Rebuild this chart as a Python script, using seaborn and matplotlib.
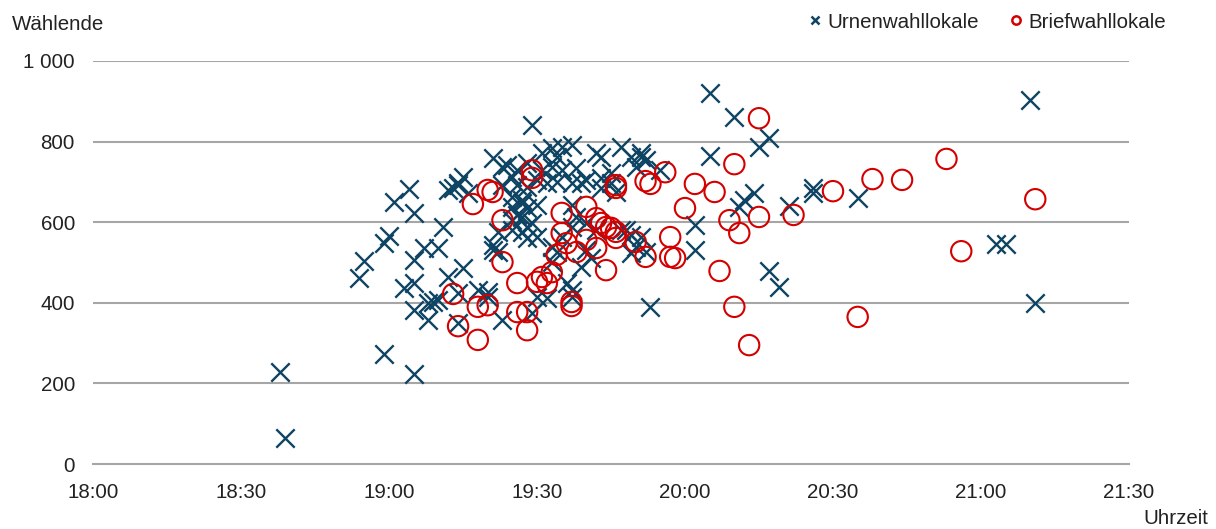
import matplotlib
matplotlib.use("Agg")
import matplotlib.pyplot as plt
from matplotlib.lines import Line2D
import seaborn as sns
import pandas as pd

# ---------------- data ----------------
urnen_time = [
    "18:38", "18:39", "18:54", "18:55", "18:59", "19:00", "18:59", "19:01", "19:04", "19:05",
    "19:05", "19:05", "19:03", "19:05", "19:05", "19:08", "19:08", "19:09", "19:10", "19:07",
    "19:10", "19:11", "19:12", "19:15", "19:14", "19:14", "19:12", "19:14", "19:15", "19:16",
    "19:13", "19:21", "19:21", "19:20", "19:20", "19:18", "19:23", "19:29", "19:30", "19:32",
    "19:37", "19:37", "19:29", "19:24", "19:26", "19:28", "19:25", "19:23", "19:26", "19:28",
    "19:31", "19:33", "19:35", "19:37", "19:34", "19:33", "19:35", "19:38", "19:40", "19:37",
    "19:34", "19:32", "19:30", "19:42", "19:47", "19:43", "19:51", "19:51", "19:52", "19:55",
    "19:45", "19:43", "19:43", "19:46", "19:45", "20:02", "20:02", "19:48", "19:49", "19:51",
    "19:50", "19:52", "19:49", "19:53", "20:05", "20:10", "20:17", "20:15", "20:05", "20:14",
    "20:12", "20:11", "20:21", "20:17", "20:19", "20:26", "20:26", "20:35", "21:10", "21:03",
    "21:05", "21:11", "19:25", "19:27", "19:28", "19:30", "19:25", "19:27", "19:29", "19:27",
    "19:28", "19:25", "19:22", "19:30", "19:33", "19:34", "19:33", "19:40", "19:41", "19:37",
    "19:23", "19:25", "19:27", "19:26", "19:28", "19:21", "19:35", "19:37", "19:38", "19:40",
    "19:42", "19:47", "19:39", "19:36", "19:49", "19:50", "19:39", "19:31", "19:14", "19:22",
]
urnen_value = [
    228, 65, 461, 504, 548, 566, 273, 650, 682, 623,
    506, 223, 437, 449, 382, 357, 399, 402, 407, 536,
    536, 588, 464, 486, 424, 350, 680, 692, 712, 672,
    685, 759, 543, 427, 414, 432, 357, 375, 414, 412,
    414, 432, 841, 742, 729, 747, 712, 692, 692, 687,
    772, 784, 786, 791, 762, 737, 729, 734, 705, 697,
    700, 697, 705, 772, 786, 762, 772, 762, 754, 729,
    722, 710, 685, 675, 697, 593, 531, 581, 568, 563,
    538, 526, 523, 390, 920, 861, 809, 786, 764, 672,
    655, 638, 640, 479, 439, 685, 672, 660, 903, 546,
    546, 399, 638, 648, 635, 643, 605, 613, 598, 576,
    561, 581, 526, 563, 538, 526, 501, 531, 511, 643,
    737, 662, 655, 618, 588, 531, 563, 588, 613, 598,
    581, 581, 489, 449, 762, 737, 697, 729, 697, 575,
]

brief_time = [
    "19:13", "19:14", "19:18", "19:18", "19:20", "19:17", "19:20", "19:21", "19:23", "19:23",
    "19:26", "19:26", "19:28", "19:28", "19:29", "19:29", "19:30", "19:31", "19:32", "19:33",
    "19:35", "19:35", "19:36", "19:34", "19:38", "19:37", "19:37", "19:40", "19:42", "19:43",
    "19:44", "19:45", "19:46", "19:40", "19:42", "19:46", "19:44", "19:46", "19:46", "19:52",
    "19:53", "19:56", "20:02", "20:06", "20:00", "20:10", "20:15", "20:09", "20:11", "20:15",
    "20:22", "19:50", "19:52", "19:57", "19:57", "19:58", "20:07", "20:10", "20:13", "20:30",
    "20:38", "20:44", "20:53", "21:11", "20:56", "20:35",
]
brief_value = [
    422, 342, 308, 390, 394, 645, 680, 675, 605, 501,
    449, 377, 332, 377, 729, 710, 452, 464, 449, 476,
    623, 573, 548, 519, 526, 402, 392, 638, 610, 598,
    588, 586, 576, 556, 536, 561, 481, 692, 685, 702,
    695, 724, 695, 675, 635, 744, 858, 605, 573, 613,
    618, 551, 514, 563, 514, 511, 479, 390, 295, 677,
    707, 705, 757, 657, 528, 365,
]

x_ticks = ["18:00", "18:30", "19:00", "19:30", "20:00", "20:30", "21:00", "21:30"]
y_ticks = [0, 200, 400, 600, 800, 1000]
y_tick_labels = ["0", "200", "400", "600", "800", "1 000"]
series_names = ["Urnenwahllokale", "Briefwahllokale"]


def to_hours(s):
    h, m = s.split(":")
    return int(h) + int(m) / 60.0


urnen = pd.DataFrame({"Uhrzeit": [to_hours(t) for t in urnen_time], "Wählende": urnen_value})
brief = pd.DataFrame({"Uhrzeit": [to_hours(t) for t in brief_time], "Wählende": brief_value})

# ---------------- styling ----------------
sns.set_theme(style="white")
plt.rcParams["font.family"] = ["Liberation Sans", "DejaVu Sans"]
text_color = "#222222"
blue = "#0e4463"
red = "#d40000"
grid_color = "#a6a6a6"
fs = 14.8

fig = plt.figure(figsize=(12.16, 5.29), dpi=100)
ax = fig.add_axes([93 / 1216, 1 - 464 / 529, (1129 - 93) / 1216, (464 - 61) / 529])

sns.scatterplot(data=urnen, x="Uhrzeit", y="Wählende", ax=ax, marker="x", s=175,
                color=blue, linewidth=1.7, clip_on=False, zorder=3)
sns.scatterplot(data=brief, x="Uhrzeit", y="Wählende", ax=ax, marker="o", s=215,
                facecolors="none", edgecolor=red, linewidth=1.5, clip_on=False, zorder=4)

ax.set_xlim(18, 21.5)
ax.set_ylim(0, 1000)
ax.set_xticks([to_hours(t) for t in x_ticks])
ax.set_xticklabels(x_ticks)
ax.set_yticks(y_ticks)
ax.set_yticklabels(y_tick_labels)

for v in y_ticks[1:]:
    ax.axhline(v, color=grid_color, linewidth=1.5, zorder=1)

for side in ["top", "right", "left"]:
    ax.spines[side].set_visible(False)
ax.spines["bottom"].set_color(grid_color)
ax.spines["bottom"].set_linewidth(1.5)
ax.tick_params(axis="x", direction="out", length=6, width=1.2, color=grid_color,
               labelsize=fs, labelcolor=text_color, pad=8)
ax.tick_params(axis="y", length=0, labelsize=fs, labelcolor=text_color, pad=13)
ax.set_xlabel("")
ax.set_ylabel("")

fig.text(12 / 1216, 1 - 25 / 529, "Wählende", fontsize=fs, color=text_color,
         ha="left", va="center")
fig.text(1208 / 1216, 1 - 519 / 529, "Uhrzeit", fontsize=fs, color=text_color,
         ha="right", va="center")

handles = [
    Line2D([], [], linestyle="none", marker="x", markersize=6, markeredgewidth=1.8,
           color=blue, label=series_names[0]),
    Line2D([], [], linestyle="none", marker="o", markersize=6, markeredgewidth=1.8,
           markerfacecolor="none", markeredgecolor=red, label=series_names[1]),
]
fig.legend(handles=handles, loc="center right", bbox_to_anchor=(1174 / 1216, 1 - 22 / 529),
           ncol=2, frameon=False, fontsize=fs, handlelength=0.6, handletextpad=0.3,
           columnspacing=1.5, labelcolor=text_color, borderaxespad=0)

fig.savefig("out.png", dpi=100)
